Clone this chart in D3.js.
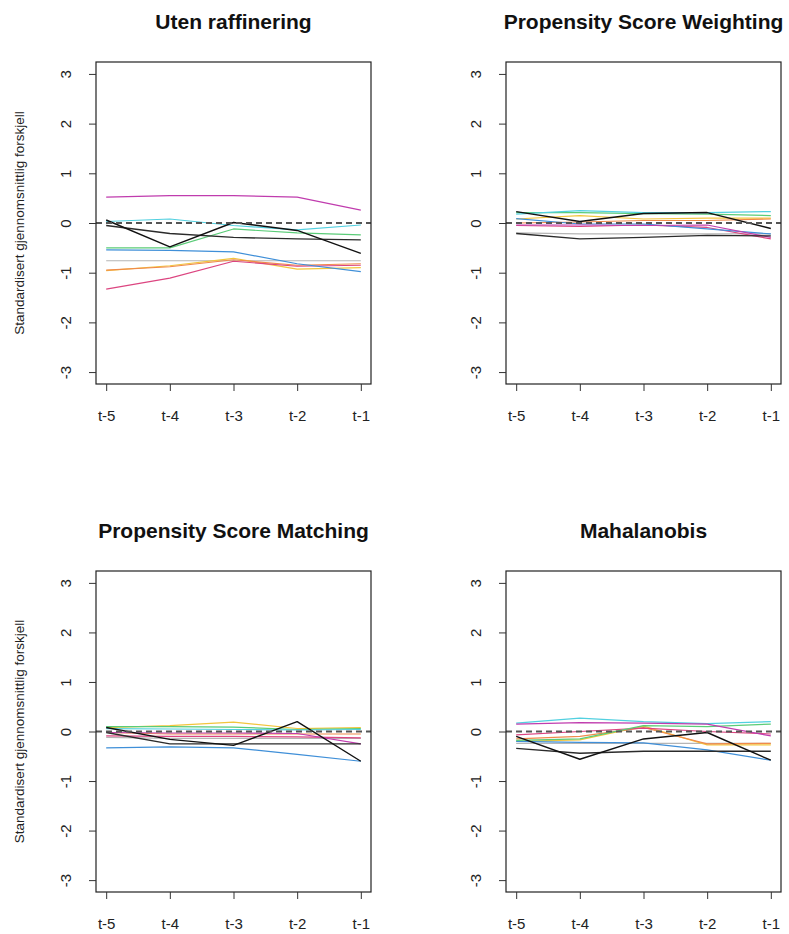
<!DOCTYPE html>
<html>
<head>
<meta charset="utf-8">
<script src="https://cdnjs.cloudflare.com/ajax/libs/d3/7.8.5/d3.min.js"></script>
<style>
  html, body { margin: 0; padding: 0; background: #fff; }
  svg { display: block; font-family: "Liberation Sans", Arial, sans-serif; }
</style>
</head>
<body>
<svg id="chart" width="789" height="934"></svg>
<script>
// Time points before treatment
const periods = ["t-5", "t-4", "t-3", "t-2", "t-1"];
const yTicks = [-3, -2, -1, 0, 1, 2, 3];

// Covariate line colours (drawing order)
const seriesNames = ["gray", "yellow", "orange", "pink", "blue", "green", "cyan", "magenta", "black2", "black1"];
const seriesColors = ["#b5b5b5", "#f2c53d", "#f08a4b", "#dc4580", "#3f8fd8", "#5bcc78", "#52d0e0", "#c03cae", "#2b2b2b", "#111111"];

// Standardised mean differences per method
const utenRaffinering = [
  [-0.76, -0.76, -0.76, -0.76, -0.76],
  [-0.96, -0.86, -0.71, -0.93, -0.90],
  [-0.95, -0.88, -0.74, -0.85, -0.82],
  [-1.33, -1.11, -0.77, -0.87, -0.85],
  [-0.54, -0.55, -0.58, -0.82, -0.98],
  [-0.50, -0.50, -0.12, -0.20, -0.24],
  [0.03, 0.08, -0.05, -0.14, -0.04],
  [0.52, 0.55, 0.55, 0.52, 0.26],
  [-0.05, -0.21, -0.29, -0.32, -0.34],
  [0.06, -0.48, 0.01, -0.15, -0.61]
];
const psWeighting = [
  [-0.20, -0.22, -0.22, -0.22, -0.22],
  [0.08, 0.15, 0.08, 0.10, 0.10],
  [0.00, 0.02, 0.05, 0.05, 0.08],
  [-0.05, -0.07, -0.04, -0.09, -0.32],
  [0.09, -0.02, -0.02, -0.12, -0.22],
  [0.21, 0.21, 0.19, 0.18, 0.15],
  [0.18, 0.25, 0.21, 0.21, 0.23],
  [-0.04, -0.04, -0.05, -0.04, -0.29],
  [-0.21, -0.32, -0.29, -0.25, -0.26],
  [0.23, 0.03, 0.19, 0.21, -0.11]
];
const psMatching = [
  [-0.12, -0.14, -0.14, -0.14, -0.14],
  [0.08, 0.12, 0.19, 0.06, 0.08],
  [-0.02, -0.05, -0.05, -0.05, -0.05],
  [-0.09, -0.10, -0.10, -0.11, -0.13],
  [-0.33, -0.31, -0.33, -0.46, -0.60],
  [0.10, 0.10, 0.09, 0.04, 0.06],
  [0.06, 0.05, 0.04, 0.03, 0.04],
  [-0.02, -0.03, -0.03, -0.04, -0.25],
  [-0.02, -0.25, -0.25, -0.25, -0.25],
  [0.08, -0.16, -0.28, 0.20, -0.60]
];
const mahalanobis = [
  [-0.24, -0.24, -0.24, -0.24, -0.24],
  [-0.20, -0.17, 0.11, -0.27, -0.27],
  [-0.15, -0.10, 0.08, -0.25, -0.24],
  [-0.07, 0.00, 0.07, 0.00, -0.05],
  [-0.20, -0.22, -0.23, -0.37, -0.58],
  [-0.18, -0.15, 0.12, 0.10, 0.15],
  [0.17, 0.27, 0.20, 0.16, 0.20],
  [0.15, 0.18, 0.17, 0.15, -0.09],
  [-0.34, -0.44, -0.40, -0.40, -0.40],
  [-0.10, -0.56, -0.15, -0.02, -0.58]
];

const panelTitles = ["Uten raffinering", "Propensity Score Weighting", "Propensity Score Matching", "Mahalanobis"];
const panelData = [utenRaffinering, psWeighting, psMatching, mahalanobis];
const yLabel = "Standardisert gjennomsnittlig forskjell";

// Panel boxes: [left, top, right, bottom]
const boxes = [
  [96, 62, 371, 384],
  [506, 62, 781, 384],
  [96, 571, 371, 892],
  [506, 571, 781, 892]
];

const svg = d3.select("#chart");

panelData.forEach((data, p) => {
  const [x0, y0, x1, y1] = boxes[p];
  const g = svg.append("g");

  // R-style 4% axis padding
  const x = d3.scaleLinear().domain([1 - 0.16, 5 + 0.16]).range([x0, x1]);
  const y = d3.scaleLinear().domain([-3.24, 3.24]).range([y1, y0]);

  // Title
  g.append("text")
    .attr("x", (x0 + x1) / 2)
    .attr("y", y0 - 33)
    .attr("text-anchor", "middle")
    .attr("font-size", 21)
    .attr("font-weight", "bold")
    .attr("fill", "#111")
    .text(panelTitles[p]);

  // Series lines
  const line = d3.line().x((d, i) => x(i + 1)).y(d => y(d));
  data.forEach((vals, s) => {
    g.append("path")
      .datum(vals)
      .attr("d", line)
      .attr("fill", "none")
      .attr("stroke", seriesColors[s])
      .attr("stroke-width", s >= 8 ? 1.4 : 1.2)
      .attr("stroke-linejoin", "round");
  });

  // Zero reference line
  g.append("line")
    .attr("x1", x0).attr("x2", x1)
    .attr("y1", y(0)).attr("y2", y(0))
    .attr("stroke", "#555")
    .attr("stroke-width", 2)
    .attr("stroke-dasharray", "6,4");

  // Plot frame
  g.append("rect")
    .attr("x", x0).attr("y", y0)
    .attr("width", x1 - x0).attr("height", y1 - y0)
    .attr("fill", "none")
    .attr("stroke", "#222")
    .attr("stroke-width", 1.2);

  // Y axis (labels rotated, reading upward)
  const yAxis = g.append("g").attr("transform", `translate(${x0},0)`)
    .call(d3.axisLeft(y).tickValues(yTicks).tickSize(7).tickFormat(d => String(d)));
  yAxis.select(".domain").remove();
  yAxis.selectAll(".tick line").attr("stroke", "#333");
  yAxis.selectAll(".tick text")
    .attr("x", 0).attr("y", 0)
    .attr("dy", "0.35em")
    .attr("text-anchor", "middle")
    .attr("transform", "translate(-30,0) rotate(-90)")
    .attr("font-size", 15)
    .attr("fill", "#222")
    .style("font-family", "Liberation Sans, Arial, sans-serif");

  // X axis
  const xAxis = g.append("g").attr("transform", `translate(0,${y1})`)
    .call(d3.axisBottom(x).tickValues([1, 2, 3, 4, 5]).tickSize(7).tickPadding(19)
      .tickFormat(d => periods[d - 1]));
  xAxis.select(".domain").remove();
  xAxis.selectAll(".tick line").attr("stroke", "#333");
  xAxis.selectAll(".tick text")
    .attr("font-size", 15)
    .attr("fill", "#222")
    .style("font-family", "Liberation Sans, Arial, sans-serif");

  // Y axis title on left column
  if (p % 2 === 0) {
    g.append("text")
      .attr("transform", `translate(19,${(y0 + y1) / 2}) rotate(-90)`)
      .attr("text-anchor", "middle")
      .attr("dy", "0.35em")
      .attr("font-size", 13.5)
      .attr("fill", "#222")
      .text(yLabel);
  }
});
</script>
</body>
</html>
